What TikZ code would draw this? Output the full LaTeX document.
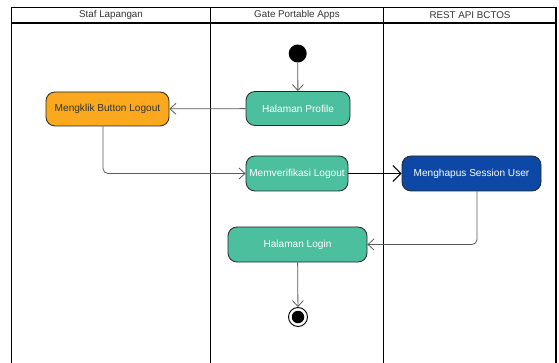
\documentclass[tikz,border=0pt]{standalone}
\usepackage{fontspec}
\setmainfont{Liberation Sans}
\usetikzlibrary{arrows.meta}
\definecolor{tealact}{RGB}{76,191,158}
\definecolor{orangeact}{RGB}{250,168,30}
\definecolor{blueact}{RGB}{14,72,166}
\definecolor{edgegray}{RGB}{90,90,90}
\tikzset{
  act/.style={draw=black!85, line width=0.8pt, rounded corners=9pt, align=center, inner sep=0pt, font=\fontsize{10.1}{12}\selectfont},
  tealbox/.style={act, fill=tealact, text=white},
  orangebox/.style={act, fill=orangeact, text=black!80},
  bluebox/.style={act, fill=blueact, text=white},
  lane/.style={line width=1.3pt, black},
  flow/.style={draw=edgegray, line width=0.8pt, rounded corners=5pt, -{Straight Barb[length=6pt,width=11pt,line width=0.8pt]}},
  strongflow/.style={draw=black, line width=1.4pt, -{Straight Barb[length=8pt,width=16pt,line width=1pt]}},
  hdr/.style={font=\fontsize{9.8}{12}\selectfont, text=black!80}
}
\begin{document}
\begin{tikzpicture}[x=1pt,y=-1pt]
\useasboundingbox (0,0) rectangle (559,363);
\fill[white] (0,0) rectangle (559,363);
% swimlanes
\draw[lane] (11.5,380) -- (11.5,7.5) -- (556,7.5) -- (556,380);
\draw[lane] (11.5,23) -- (556,23);
\draw[lane] (210.7,7.5) -- (210.7,380);
\draw[lane] (383.5,7.5) -- (383.5,380);
\node[hdr] (h1) at (111,15.3) {Staf Lapangan};
\node[hdr] (h2) at (297,15.3) {Gate Portable Apps};
\node[hdr] (h3) at (470,15.3) {REST API BCTOS};
% nodes
\node[circle, fill=black, minimum size=18pt, inner sep=0pt] (start) at (297.7,53.5) {};
\node[tealbox, minimum width=104pt, minimum height=34pt] (profile) at (298,108.5) {Halaman Profile};
\node[orangebox, minimum width=123pt, minimum height=34pt] (klik) at (107.5,109) {Mengklik Button Logout};
\node[tealbox, minimum width=102pt, minimum height=35pt] (verif) at (297,173.5) {Memverifikasi Logout};
\node[bluebox, minimum width=139pt, minimum height=35pt] (hapus) at (471.5,173.5) {Menghapus Session User};
\node[tealbox, minimum width=139pt, minimum height=35pt] (login) at (297.5,244.5) {Halaman Login};
\node[circle, draw=black, line width=0.9pt, minimum size=19pt, inner sep=0pt] (end) at (298,317) {};
\node[circle, fill=black, minimum size=12.5pt, inner sep=0pt] (endin) at (end.center) {};
% connectors
\draw[flow] (start) -- (profile);
\draw[flow] (profile) -- (klik);
\draw[flow] ([xshift=-4.5pt]klik.south) |- (verif.west);
\draw[strongflow] (verif) -- (hapus);
\draw[flow] ([xshift=5.5pt]hapus.south) |- (login.east);
\draw[flow] (login) -- (end);
\end{tikzpicture}
\end{document}
